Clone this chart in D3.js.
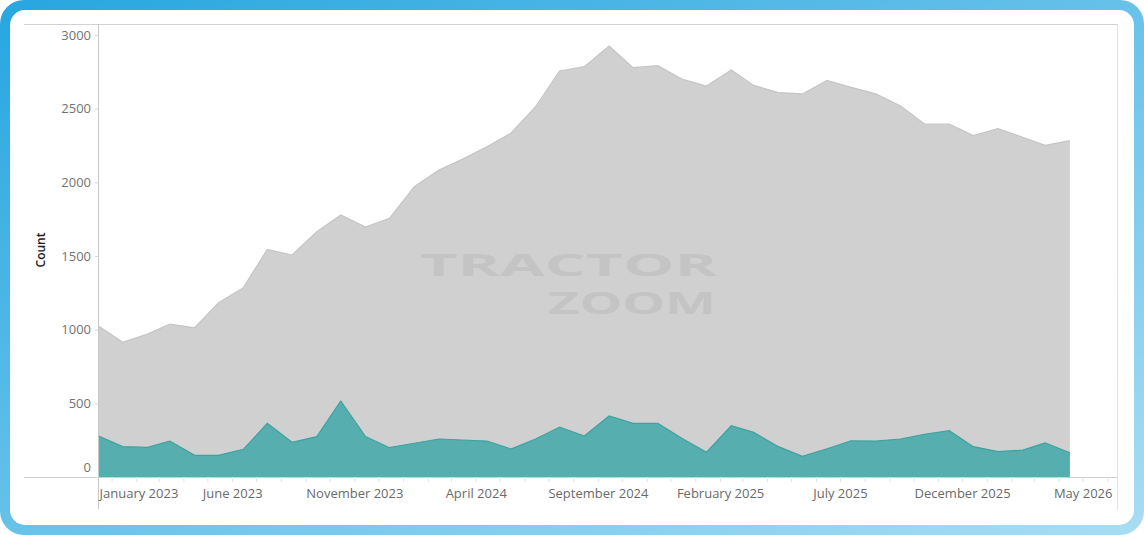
<!DOCTYPE html>
<html>
<head>
<meta charset="utf-8">
<script src="https://cdn.jsdelivr.net/npm/d3@7"></script>
<style>
  html, body { margin: 0; padding: 0; background: #fff; }
  svg { display: block; }
  text { font-family: "Open Sans", sans-serif; }
</style>
</head>
<body>
<div id="chart"></div>
<script>
// months plotted (mid-month points)
const months = [
  '2022-12', '2023-01', '2023-02', '2023-03', '2023-04', '2023-05', '2023-06', '2023-07',
  '2023-08', '2023-09', '2023-10', '2023-11', '2023-12', '2024-01', '2024-02', '2024-03',
  '2024-04', '2024-05', '2024-06', '2024-07', '2024-08', '2024-09', '2024-10', '2024-11',
  '2024-12', '2025-01', '2025-02', '2025-03', '2025-04', '2025-05', '2025-06', '2025-07',
  '2025-08', '2025-09', '2025-10', '2025-11', '2025-12', '2026-01', '2026-02', '2026-03',
  '2026-04'
];
// grey area (all)
const totalCounts = [
  1027, 914, 970, 1038, 1013, 1183, 1285, 1545, 1507, 1665, 1778, 1697, 1756, 1970,
  2084, 2156, 2242, 2333, 2513, 2756, 2785, 2925, 2778, 2792, 2701, 2654, 2762, 2658,
  2609, 2600, 2692, 2645, 2600, 2518, 2396, 2396, 2317, 2364, 2306, 2251, 2283
];
// teal area (subset)
const subsetCounts = [
  280, 206, 201, 244, 147, 147, 188, 364, 236, 274, 516, 274, 199, 229,
  258, 251, 244, 190, 258, 339, 278, 414, 364, 364, 263, 168, 348, 303,
  206, 140, 192, 246, 244, 258, 290, 314, 206, 172, 183, 231, 165
];
const yTicks = [0, 500, 1000, 1500, 2000, 2500, 3000];
const xLabelMonths = ['2023-01', '2023-06', '2023-11', '2024-04', '2024-09', '2025-02', '2025-07', '2025-12', '2026-05'];

const WIDTH = 1144;
const HEIGHT = 535;

const parseMid = (m) => d3.timeParse('%Y-%m-%d')(m + '-15');
const parseStart = (m) => d3.timeParse('%Y-%m-%d')(m + '-01');

const data = months.map((m, i) => ({ date: parseMid(m), total: totalCounts[i], sub: subsetCounts[i] }));

const svg = d3.select('#chart').append('svg')
  .attr('width', WIDTH)
  .attr('height', HEIGHT);

// frame
const defs = svg.append('defs');
const grad = defs.append('linearGradient')
  .attr('id', 'frameGrad')
  .attr('x1', '0%').attr('y1', '0%').attr('x2', '100%').attr('y2', '100%');
grad.append('stop').attr('offset', '0%').attr('stop-color', '#27a6e0');
grad.append('stop').attr('offset', '100%').attr('stop-color', '#a8ddf3');

svg.append('rect')
  .attr('x', 0).attr('y', 0).attr('width', WIDTH).attr('height', HEIGHT)
  .attr('rx', 24).attr('fill', 'url(#frameGrad)');
svg.append('rect')
  .attr('x', 10).attr('y', 10).attr('width', WIDTH - 20).attr('height', HEIGHT - 20)
  .attr('rx', 15).attr('fill', '#fff');

// scales
const x = d3.scaleTime()
  .domain([parseMid('2022-12'), new Date(2026, 5, 13)])
  .range([98, 1117]);
const y = d3.scaleLinear().domain([0, 3000]).range([477, 35]);

// areas
const greyArea = d3.area().x((d) => x(d.date)).y0(y(0)).y1((d) => y(d.total));
const greyLine = d3.line().x((d) => x(d.date)).y((d) => y(d.total));
const tealArea = d3.area().x((d) => x(d.date)).y0(y(0)).y1((d) => y(d.sub));
const tealLine = d3.line().x((d) => x(d.date)).y((d) => y(d.sub));

svg.append('path').datum(data).attr('d', greyArea).attr('fill', '#d0d0d0');
svg.append('path').datum(data).attr('d', greyLine)
  .attr('fill', 'none').attr('stroke', '#c5c5c5').attr('stroke-width', 1.2);

// watermark
const wm = svg.append('g')
  .attr('fill', '#c4c4c4')
  .style('font-family', 'DejaVu Sans')
  .style('font-weight', 'bold')
  .style('font-size', '30px');
wm.append('text')
  .attr('x', 420).attr('y', 276)
  .attr('textLength', 297).attr('lengthAdjust', 'spacingAndGlyphs')
  .text('TRACTOR');
wm.append('text')
  .attr('x', 548).attr('y', 314)
  .attr('textLength', 168).attr('lengthAdjust', 'spacingAndGlyphs')
  .text('ZOOM');

svg.append('path').datum(data).attr('d', tealArea).attr('fill', '#57aeae');
svg.append('path').datum(data).attr('d', tealLine)
  .attr('fill', 'none').attr('stroke', '#3ea2a2').attr('stroke-width', 1.2);

// frame lines
const lines = svg.append('g').attr('shape-rendering', 'crispEdges');
lines.append('line').attr('x1', 24).attr('x2', 1117).attr('y1', 24.5).attr('y2', 24.5).attr('stroke', '#d2d2d2');
lines.append('line').attr('x1', 1117.5).attr('x2', 1117.5).attr('y1', 24).attr('y2', 510).attr('stroke', '#e2e2e2');
lines.append('line').attr('x1', 98.5).attr('x2', 98.5).attr('y1', 24).attr('y2', 509).attr('stroke', '#c8c8c8');
lines.append('line').attr('x1', 24).attr('x2', 1117).attr('y1', 477.5).attr('y2', 477.5).attr('stroke', '#cfcfcf');

// y axis
const yAxis = svg.append('g')
  .attr('transform', 'translate(98,0)')
  .call(d3.axisLeft(y).tickValues(yTicks).tickSize(3).tickPadding(4).tickFormat(d3.format('d')));
yAxis.select('.domain').remove();
yAxis.selectAll('.tick line').attr('stroke', '#d8d8d8');
yAxis.selectAll('.tick text')
  .attr('fill', '#737373')
  .style('font-size', '13px')
  .style('font-family', '"Open Sans", sans-serif')
  .attr('dy', (d) => (d === 0 ? '-0.45em' : '0.32em'));

svg.append('text')
  .attr('transform', 'translate(45,250) rotate(-90)')
  .attr('text-anchor', 'middle')
  .attr('fill', '#222')
  .style('font-size', '12px')
  .style('font-weight', 600)
  .text('Count');

// x axis
const labelSet = new Set(xLabelMonths);
const monthTicks = d3.timeMonth.range(parseStart('2023-01'), parseStart('2026-07'));
const xAxis = svg.append('g')
  .attr('transform', 'translate(0,477)')
  .call(d3.axisBottom(x)
    .tickValues(monthTicks)
    .tickSize(5)
    .tickFormat((d) => (labelSet.has(d3.timeFormat('%Y-%m')(d)) ? d3.timeFormat('%B %Y')(d) : '')));
xAxis.select('.domain').remove();
xAxis.selectAll('.tick line').attr('stroke', '#e3e3e3');
xAxis.selectAll('.tick text')
  .attr('fill', '#6a6a6a')
  .attr('y', 12)
  .style('font-size', '13px')
  .style('font-family', '"Open Sans", sans-serif');
// first label sits flush with the y axis
xAxis.selectAll('.tick text')
  .filter((d) => +d === +parseStart(xLabelMonths[0]))
  .attr('text-anchor', 'start')
  .attr('x', (d) => 99 - x(d));
</script>
</body>
</html>
